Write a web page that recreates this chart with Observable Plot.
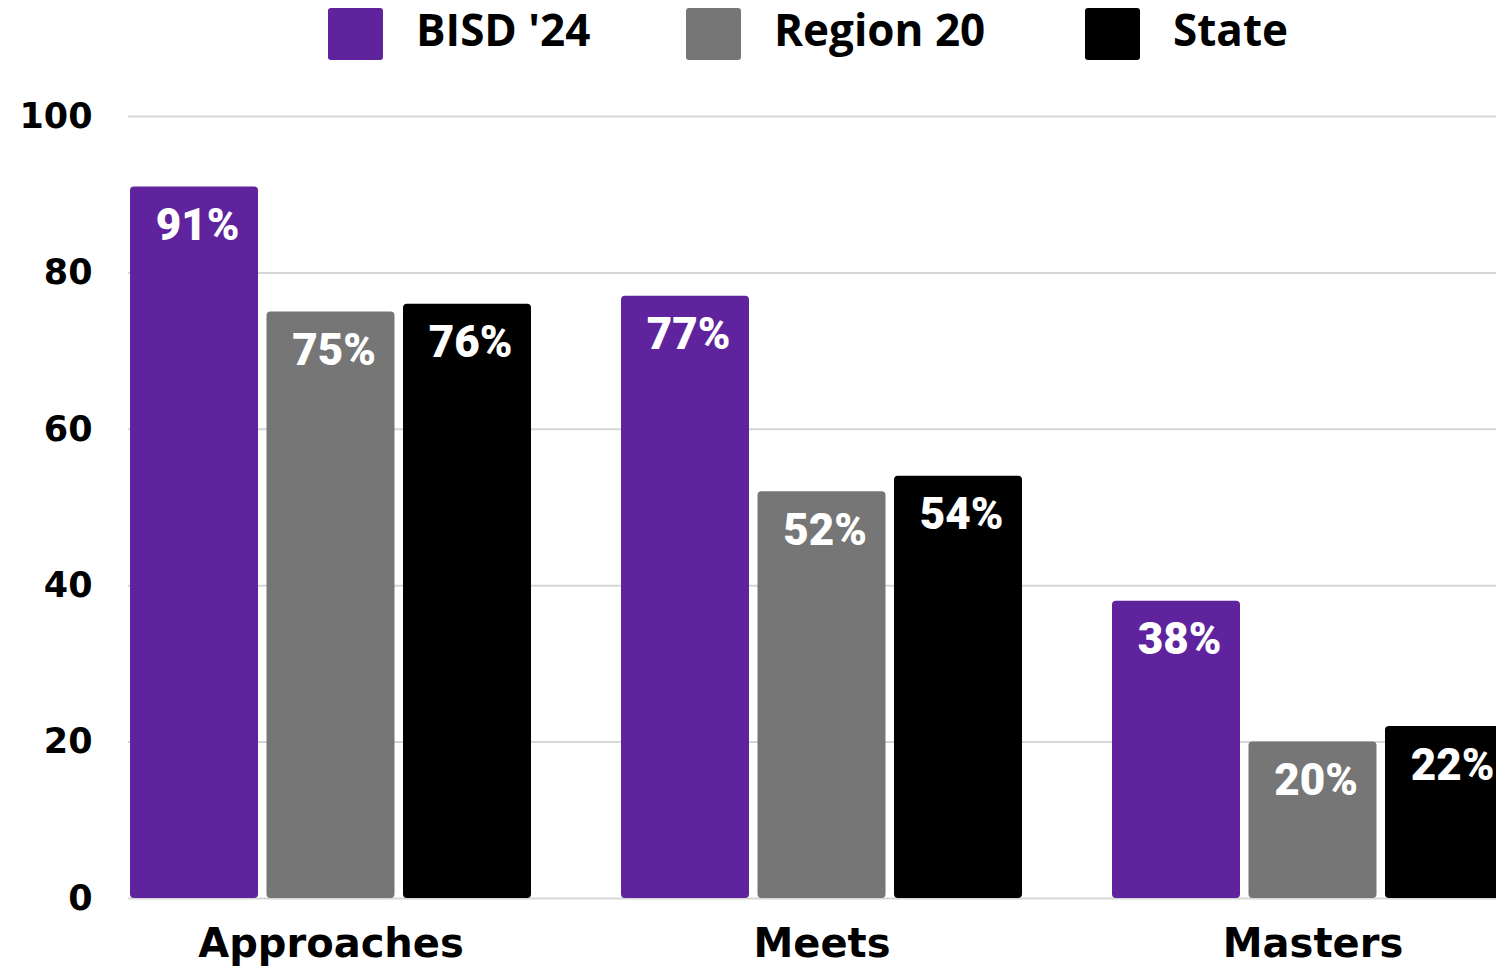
<!DOCTYPE html>
<html>
<head>
<meta charset="utf-8">
<script src="https://cdn.jsdelivr.net/npm/d3@7"></script>
<script src="https://cdn.jsdelivr.net/npm/@observablehq/plot@0.6"></script>
<style>
  html, body { margin: 0; padding: 0; background: #fff; overflow: hidden; }
  #legend { position: relative; width: 1496px; height: 70px; font-family: "Open Sans", sans-serif; font-weight: 700; }
  .item { position: absolute; top: 8px; height: 52px; display: flex; align-items: center; }
  .sw { width: 55px; height: 52px; border-radius: 3px; margin-right: 33px; }
  .lbl { font-size: 44px; color: #000; line-height: 1; margin-top: -10px; }
  #chart svg { display: block; overflow: hidden; }
</style>
</head>
<body>
<div id="legend"></div>
<div id="chart"></div>
<script>
const categories = ["Approaches", "Meets", "Masters"];
const seriesNames = ["BISD '24", "Region 20", "State"];
const bisd = [91, 77, 38];
const region20 = [75, 52, 20];
const state = [76, 54, 22];
const colors = ["#5E239D", "#767676", "#000000"];
const yTicks = [0, 20, 40, 60, 80, 100];

const seriesValues = [bisd, region20, state];
const data = [];
seriesNames.forEach((s, i) => categories.forEach((c, j) => data.push({category: c, series: s, value: seriesValues[i][j]})));

// legend
const legendLeft = [328, 686, 1085];
const legend = document.getElementById("legend");
seriesNames.forEach((s, i) => {
  const it = document.createElement("div");
  it.className = "item";
  it.style.left = legendLeft[i] + "px";
  it.innerHTML = `<div class="sw" style="background:${colors[i]}"></div><div class="lbl"></div>`;
  it.querySelector(".lbl").textContent = s;
  legend.appendChild(it);
});

const barStep = 136.5;
const marks = [];
seriesNames.forEach((s, i) => {
  const d = data.filter(r => r.series === s);
  marks.push(Plot.barY(d, {
    x: "category", y: "value", fill: colors[i], rx: 4,
    insetLeft: i * barStep, insetRight: (2 - i) * barStep
  }));
  marks.push(Plot.text(d, {
    x: "category", y: "value", text: r => r.value + "%",
    dx: (i - 1) * barStep + 3, dy: 39, fill: "#fff",
    fontSize: 44, fontWeight: 900, fontFamily: "Roboto", lineAnchor: "middle"
  }));
});

const chart = Plot.plot({
  width: 1496,
  height: 899,
  marginLeft: 128,
  marginRight: 0,
  marginTop: 46,
  marginBottom: 71,
  style: {background: "#fff", fontFamily: "DejaVu Sans", overflow: "hidden"},
  x: {domain: categories, range: [130, 1513], paddingInner: 0.1833, paddingOuter: 0, align: 0, label: null},
  y: {domain: [0, 100], label: null},
  marks: [
    Plot.ruleY(yTicks, {stroke: "#d6d6d6", strokeWidth: 2}),
    ...marks,
    Plot.axisY({ticks: yTicks, tickSize: 0, tickPadding: 36, fontSize: 35, fontWeight: 700, fill: "#000", label: null}),
    Plot.axisX({tickSize: 0, tickPadding: 30, fontSize: 40, fontWeight: 700, fill: "#000", label: null})
  ]
});
document.getElementById("chart").appendChild(chart);
</script>
</body>
</html>
